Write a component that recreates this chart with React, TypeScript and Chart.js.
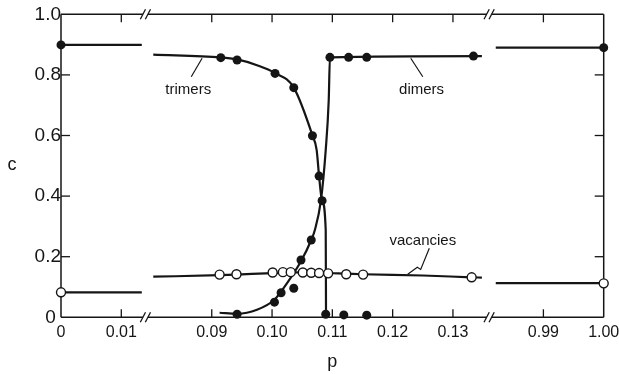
import React, { useEffect, useRef } from 'react';
import { Chart, registerables } from 'chart.js';

Chart.register(...registerables);

const FONT = '"Liberation Sans", Arial, Helvetica, sans-serif';
const INK = '#151515';

// ---- broken-axis geometry (scale units: 1 unit = 0.01 in p) ----
const SEG_P0 = [0, 0.09, 0.99];
const SEG_U0 = [0, 2.5, 8];
const BREAK_U = [1.4, 7.1];
const X_MIN_U = 0;
const X_MAX_U = 9;

function toU(p: number): number {
  const i = p < 0.05 ? 0 : p < 0.5 ? 1 : 2;
  return SEG_U0[i] + (p - SEG_P0[i]) * 100;
}

// ---- tick labels ----
const xTickP = [0, 0.01, 0.09, 0.1, 0.11, 0.12, 0.13, 0.99, 1.0];
const xTickLabels = ['0', '0.01', '0.09', '0.10', '0.11', '0.12', '0.13', '0.99', '1.00'];
const yTickValues = [0, 0.2, 0.4, 0.6, 0.8, 1.0];
const yTickLabels = ['0 ', '0.2', '0.4', '0.6', '0.8', '1.0'];

// ---- segment 1 (p near 0) ----
const seg1P = [0, 0.0134];
const seg1TopC = [0.899, 0.899];
const seg1VacC = [0.0825, 0.0825];

// ---- segment 3 (p near 1) ----
const seg3P = [0.9821, 1.0];
const seg3DimerC = [0.89, 0.89];
const seg3VacC = [0.113, 0.113];

// ---- end points ----
const endFilledP = [0, 1.0];
const endFilledC = [0.899, 0.89];
const endOpenP = [0, 1.0];
const endOpenC = [0.0825, 0.112];

// ---- middle segment curves ----
const trimerCurveP = [0.0803, 0.0915, 0.0942, 0.0975, 0.1005, 0.1036, 0.1067, 0.1074, 0.1078, 0.1083, 0.1089, 0.10895];
const trimerCurveC = [0.867, 0.858, 0.851, 0.832, 0.806, 0.758, 0.6, 0.552, 0.466, 0.385, 0.288, 0.0];

const dimerCurveP = [0.0913, 0.0942, 0.0975, 0.1004, 0.1015, 0.1048, 0.1065, 0.1071, 0.1081, 0.1089, 0.1094, 0.1096, 0.1348];
const dimerCurveC = [0.015, 0.012, 0.025, 0.058, 0.085, 0.185, 0.255, 0.288, 0.385, 0.552, 0.717, 0.858, 0.862];

const vacCurveP = [0.0803, 0.0913, 0.0941, 0.1001, 0.104, 0.1078, 0.1123, 0.1151, 0.125, 0.1331, 0.1348];
const vacCurveC = [0.134, 0.139, 0.141, 0.146, 0.148, 0.147, 0.144, 0.142, 0.138, 0.132, 0.131];

// ---- middle segment dots ----
const trimerDotP = [0.0915, 0.0942, 0.1005, 0.1036, 0.1067, 0.1078, 0.1083, 0.1089, 0.1119, 0.1157];
const trimerDotC = [0.857, 0.849, 0.805, 0.758, 0.599, 0.466, 0.385, 0.01, 0.008, 0.007];

const dimerDotP = [0.0942, 0.1004, 0.1015, 0.1036, 0.1048, 0.1065, 0.1096, 0.1127, 0.1157, 0.1334];
const dimerDotC = [0.01, 0.05, 0.081, 0.096, 0.189, 0.255, 0.858, 0.858, 0.858, 0.862];

const vacDotP = [0.0913, 0.0941, 0.1001, 0.1018, 0.1031, 0.1051, 0.1065, 0.1078, 0.1093, 0.1123, 0.1151, 0.1331];
const vacDotC = [0.141, 0.142, 0.148, 0.149, 0.149, 0.148, 0.147, 0.146, 0.145, 0.142, 0.141, 0.132];

// ---- annotations (data coordinates) ----
const labelTexts = ['trimers', 'dimers', 'vacancies'];
const labelP = [0.0861, 0.1248, 0.125];
const labelC = [0.75, 0.75, 0.252];
const trimerLeaderP = [0.0866, 0.0884];
const trimerLeaderC = [0.794, 0.855];
const dimerLeaderP = [0.123, 0.125];
const dimerLeaderC = [0.855, 0.794];
const vacLeaderP = [0.1225, 0.12409, 0.12465, 0.12608];
const vacLeaderC = [0.142, 0.165, 0.158, 0.228];

function pts(ps: number[], cs: number[]) {
  return ps.map((p, i) => ({ x: toU(p), y: cs[i] }));
}

function lineDs(ps: number[], cs: number[], curved: boolean) {
  return {
    data: pts(ps, cs),
    borderColor: INK,
    borderWidth: 2.2,
    pointRadius: 0,
    showLine: true,
    fill: false,
    cubicInterpolationMode: curved ? 'monotone' : 'default',
    tension: 0,
    clip: false,
    order: 2,
  };
}

function dotDs(ps: number[], cs: number[], open: boolean) {
  return {
    data: pts(ps, cs),
    showLine: false,
    pointRadius: 4.5,
    pointBorderWidth: open ? 1.4 : 0,
    pointBackgroundColor: open ? '#ffffff' : INK,
    pointBorderColor: INK,
    borderColor: INK,
    clip: false,
    order: 0,
  };
}

const axisPlugin = {
  id: 'brokenAxis',
  beforeDatasetsDraw(chart: any) {
    const { ctx, chartArea, scales } = chart;
    const { left: L, right: R, top: T, bottom: B } = chartArea;
    const xs = scales.x;
    const ys = scales.y;
    const seg = (x1: number, y1: number, x2: number, y2: number) => {
      ctx.beginPath();
      ctx.moveTo(x1, y1);
      ctx.lineTo(x2, y2);
      ctx.stroke();
    };
    ctx.save();
    ctx.strokeStyle = INK;
    ctx.lineWidth = 1.5;
    seg(L, T, L, B);
    seg(R, T, R, B);
    const bx = BREAK_U.map((u) => xs.getPixelForValue(u));
    for (const y of [T, B]) {
      let start = L;
      for (const c of bx) {
        seg(start, y, c - 2.5, y);
        start = c + 2.5;
      }
      seg(start, y, R, y);
      ctx.lineWidth = 1.3;
      for (const c of bx) {
        for (const off of [-2.5, 2.5]) seg(c + off - 2.6, y + 5, c + off + 2.6, y - 5);
      }
      ctx.lineWidth = 1.5;
    }
    ctx.lineWidth = 1.3;
    xTickP.slice(1, -1).forEach((p) => {
      const x = xs.getPixelForValue(toU(p));
      seg(x, B, x, B - 8);
      seg(x, T, x, T + 8);
    });
    yTickValues.slice(1, -1).forEach((v) => {
      const y = ys.getPixelForValue(v);
      seg(L, y, L + 9, y);
      seg(R, y, R - 9, y);
    });
    ctx.restore();
  },
  afterDatasetsDraw(chart: any) {
    const { ctx, chartArea, scales } = chart;
    const xs = scales.x;
    const ys = scales.y;
    const px = (p: number) => xs.getPixelForValue(toU(p));
    const py = (c: number) => ys.getPixelForValue(c);
    ctx.save();
    ctx.fillStyle = INK;
    ctx.strokeStyle = INK;
    ctx.font = `15px ${FONT}`;
    ctx.textAlign = 'center';
    ctx.textBaseline = 'middle';
    labelTexts.forEach((t, i) => ctx.fillText(t, px(labelP[i]), py(labelC[i])));
    ctx.lineWidth = 1.2;
    const poly = (ps: number[], cs: number[]) => {
      ctx.beginPath();
      ps.forEach((p, i) => (i === 0 ? ctx.moveTo(px(p), py(cs[i])) : ctx.lineTo(px(p), py(cs[i]))));
      ctx.stroke();
    };
    poly(trimerLeaderP, trimerLeaderC);
    poly(dimerLeaderP, dimerLeaderC);
    poly(vacLeaderP, vacLeaderC);
    // upright y-axis title
    ctx.font = `18px ${FONT}`;
    ctx.fillText('c', chartArea.left - 49, (chartArea.top + chartArea.bottom) / 2 - 1);
    ctx.restore();
  },
};

export default function App() {
  const ref = useRef<HTMLCanvasElement | null>(null);
  useEffect(() => {
    if (!ref.current) return;
    Chart.defaults.font.family = FONT;
    Chart.defaults.color = INK;
    const chart = new Chart(ref.current, {
      type: 'line',
      data: {
        datasets: [
          lineDs(seg1P, seg1TopC, false),
          lineDs(seg1P, seg1VacC, false),
          lineDs(seg3P, seg3DimerC, false),
          lineDs(seg3P, seg3VacC, false),
          lineDs(trimerCurveP, trimerCurveC, true),
          lineDs(dimerCurveP, dimerCurveC, true),
          lineDs(vacCurveP, vacCurveC, true),
          dotDs(trimerDotP, trimerDotC, false),
          dotDs(dimerDotP, dimerDotC, false),
          dotDs(vacDotP, vacDotC, true),
          dotDs(endFilledP, endFilledC, false),
          dotDs(endOpenP, endOpenC, true),
        ] as any,
      },
      options: {
        responsive: false,
        animation: false,
        events: [],
        layout: { padding: { top: 14.3, right: 15.3, left: 0, bottom: 0 } },
        plugins: { legend: { display: false }, tooltip: { enabled: false } },
        scales: {
          x: {
            type: 'linear',
            min: X_MIN_U,
            max: X_MAX_U,
            grid: { display: false, drawTicks: false },
            border: { display: false },
            afterBuildTicks: (scale: any) => {
              scale.ticks = xTickP.map((p) => ({ value: toU(p) }));
            },
            afterFit: (scale: any) => {
              scale.height = 56.7;
              scale.paddingLeft = 0;
              scale.paddingRight = 0;
            },
            ticks: {
              autoSkip: false,
              maxRotation: 0,
              padding: 5.5,
              font: { size: 16 },
              color: INK,
              callback: (_v: any, i: number) => xTickLabels[i],
            },
            title: { display: true, text: 'p', font: { size: 18 }, color: INK, padding: { top: 0, bottom: 1 } },
          },
          y: {
            type: 'linear',
            min: 0,
            max: 1,
            grid: { display: false, drawTicks: false },
            border: { display: false },
            afterBuildTicks: (scale: any) => {
              scale.ticks = yTickValues.map((v) => ({ value: v }));
            },
            afterFit: (scale: any) => {
              scale.width = 61;
              scale.paddingTop = 0;
              scale.paddingBottom = 0;
            },
            ticks: {
              padding: 0,
              font: { size: 19 },
              color: INK,
              callback: (_v: any, i: number) => yTickLabels[i],
            },
          },
        },
      } as any,
      plugins: [axisPlugin],
    });
    return () => chart.destroy();
  }, []);
  return (
    <div style={{ position: 'fixed', left: 0, top: 0, width: 619, height: 374, background: '#fff' }}>
      <canvas ref={ref} width={619} height={374} style={{ display: 'block' }} />
    </div>
  );
}
